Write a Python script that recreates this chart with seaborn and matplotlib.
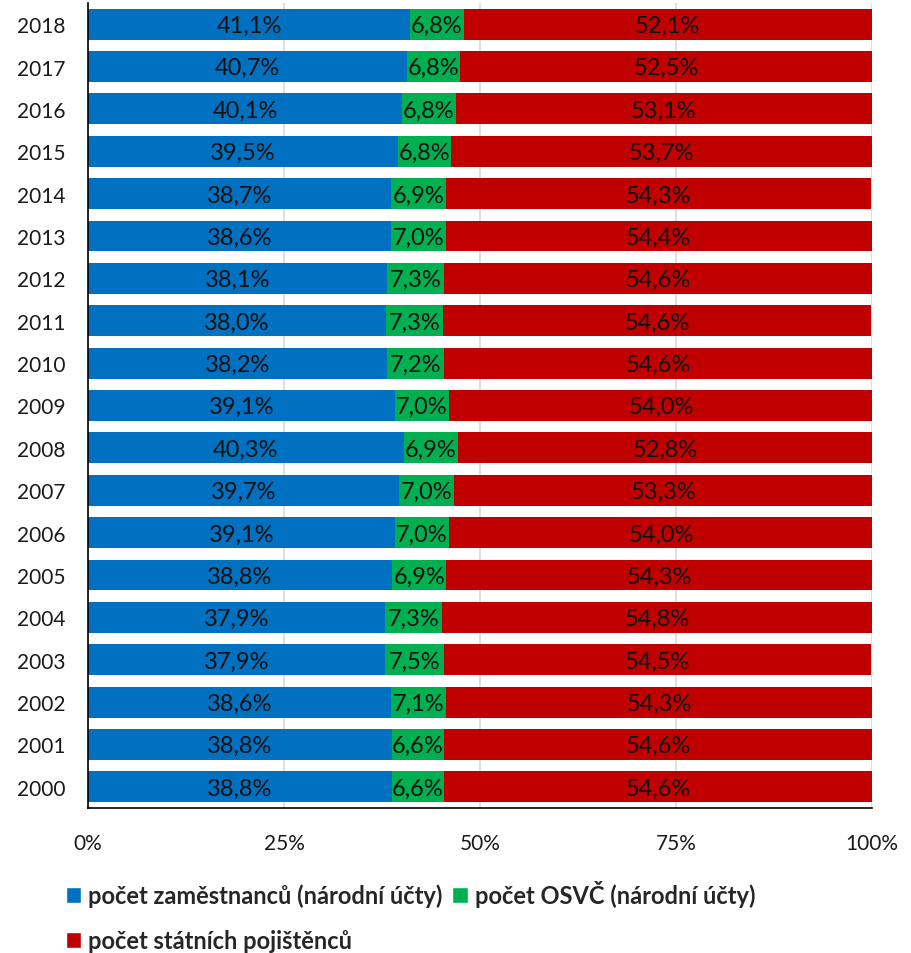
import matplotlib
matplotlib.use("Agg")
import matplotlib.pyplot as plt
import matplotlib.ticker as mticker
from matplotlib.patches import Patch
import numpy as np
import pandas as pd
import seaborn as sns

# Share of insured persons by payer group, 2000–2018 (in %)
years = [str(y) for y in range(2000, 2019)]
zamestnanci = [38.8, 38.8, 38.6, 37.9, 37.9, 38.8, 39.1, 39.7, 40.3, 39.1,
               38.2, 38.0, 38.1, 38.6, 38.7, 39.5, 40.1, 40.7, 41.1]
osvc = [6.6, 6.6, 7.1, 7.5, 7.3, 6.9, 7.0, 7.0, 6.9, 7.0,
        7.2, 7.3, 7.3, 7.0, 6.9, 6.8, 6.8, 6.8, 6.8]
statni = [54.6, 54.6, 54.3, 54.5, 54.8, 54.3, 54.0, 53.3, 52.8, 54.0,
          54.6, 54.6, 54.6, 54.4, 54.3, 53.7, 53.1, 52.5, 52.1]
series_names = ["počet zaměstnanců (národní účty)",
                "počet OSVČ (národní účty)",
                "počet státních pojištěnců"]
colors = ["#0070C0", "#00B050", "#C00000"]
xticks = [0, 25, 50, 75, 100]

df = pd.DataFrame({"rok": years, "zam": zamestnanci, "osvc": osvc, "stat": statni})
df["c1"] = df["zam"]
df["c2"] = df["zam"] + df["osvc"]
df["c3"] = df["c2"] + df["stat"]
order = years[::-1]

sns.set_style("white")
plt.rcParams["font.family"] = ["Lato", "DejaVu Sans"]

fig = plt.figure(figsize=(9.12, 9.54), dpi=100)
ax = fig.add_axes([88 / 912, 1 - 809 / 954, 784 / 912, 805 / 954])

bar_h = 0.73
# stacked bars drawn as cumulative layers, back to front
for col, c in zip(["c3", "c2", "c1"], colors[::-1]):
    sns.barplot(data=df, x=col, y="rok", order=order, orient="h",
                color=c, saturation=1, width=bar_h, ax=ax, zorder=2,
                edgecolor="none")

ax.set_xlim(0, 100)
ax.set_ylim(len(order) - 0.5, -0.5)
ax.set_xticks(xticks)
ax.xaxis.set_major_formatter(mticker.FuncFormatter(lambda v, p: f"{v:.0f}%"))
ax.grid(axis="x", color="#d9d9d9", linewidth=1.2, zorder=0)
ax.set_axisbelow(True)
ax.set_xlabel("")
ax.set_ylabel("")

for s in ["top", "right"]:
    ax.spines[s].set_visible(False)
for s in ["left", "bottom"]:
    ax.spines[s].set_color("black")
    ax.spines[s].set_linewidth(1.2)

ax.tick_params(axis="x", which="major", length=6, width=1.2, color="black",
               direction="out", pad=12, labelsize=15, labelcolor="#1a1a1a")
ax.tick_params(axis="y", which="major", length=0, pad=16, labelsize=15,
               labelcolor="#1a1a1a")
ax.set_yticks(np.arange(len(order) + 1) - 0.5, minor=True)
ax.tick_params(axis="y", which="minor", length=6, width=1.2, color="black",
               direction="out")

def fmt(v):
    return f"{v:.1f}".replace(".", ",") + "%"

for i, yr in enumerate(order):
    row = df[df["rok"] == yr].iloc[0]
    segments = [(0, row["zam"]), (row["c1"], row["osvc"]), (row["c2"], row["stat"])]
    for left, val in segments:
        ax.text(left + val / 2, i + 0.03, fmt(val), ha="center", va="center",
                fontsize=17, color="#111111", zorder=5)

handles = [Patch(facecolor=colors[0], label=series_names[0]),
           Patch(facecolor=colors[2], label=series_names[2]),
           Patch(facecolor=colors[1], label=series_names[1])]
fig.legend(handles=handles, ncol=2, loc="upper left",
           bbox_to_anchor=(66 / 912, 1 - 881 / 954), frameon=False,
           prop={"weight": "bold", "size": 17}, handlelength=0.65,
           handleheight=0.65, handletextpad=0.3, columnspacing=0.4,
           labelspacing=0.95, borderaxespad=0, borderpad=0)

fig.savefig("out.png", dpi=100, facecolor="white")
